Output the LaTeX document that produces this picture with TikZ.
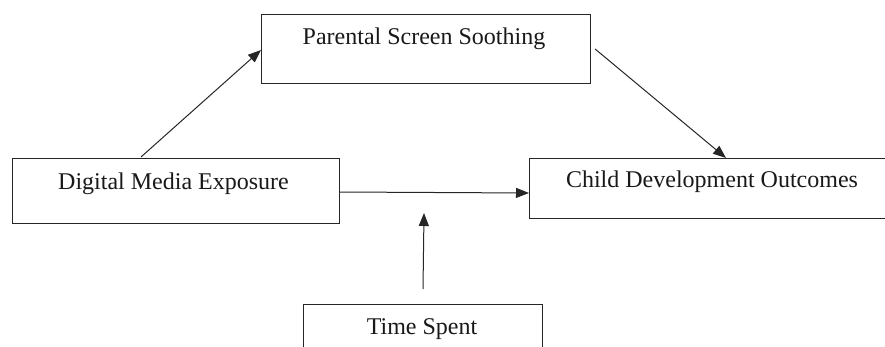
\documentclass[tikz,border=0pt]{standalone}
\usepackage{fontspec}
\setmainfont{Liberation Serif}
\usetikzlibrary{arrows.meta,calc}
\begin{document}
\begin{tikzpicture}[x=1pt,y=-1pt,
  box/.style={draw=black!85,line width=1.1pt,anchor=north west,inner sep=0pt},
  lbl/.style={anchor=base,inner sep=0pt,font=\fontsize{24}{28}\selectfont,text=black!90},
  conn/.style={draw=black!85,line width=1pt,-{Triangle[length=13pt,width=10pt]}}]
\useasboundingbox (0,0) rectangle (885,347);
\node[box,minimum width=329pt,minimum height=69pt] (p) at (261,14) {};
\node[box,minimum width=327pt,minimum height=65pt] (d) at (12,158) {};
\node[box,minimum width=370pt,minimum height=60pt] (c) at (529,158) {};
\node[box,minimum width=239pt,minimum height=60pt] (t) at (303,304) {};
\node[lbl] (pl) at (424,45) {Parental Screen Soothing};
\node[lbl] (dl) at (173.5,190) {Digital Media Exposure};
\node[lbl] (cl) at (712,188) {Child Development Outcomes};
\node[lbl] (tl) at (422,334) {Time Spent};
\coordinate (m) at (424,213);
\draw[conn] ($(d.north west)+(129,-1)$) -- ($(p.north west)+(0,36)$);
\draw[conn] ($(p.north east)+(4,35)$) -- ($(c.north west)+(197,0)$);
\draw[conn] ($(d.north west)+(327,34)$) -- ($(c.north west)+(0,35)$);
\draw[conn] ($(t.north west)+(120,-15)$) -- (m);
\end{tikzpicture}
\end{document}
